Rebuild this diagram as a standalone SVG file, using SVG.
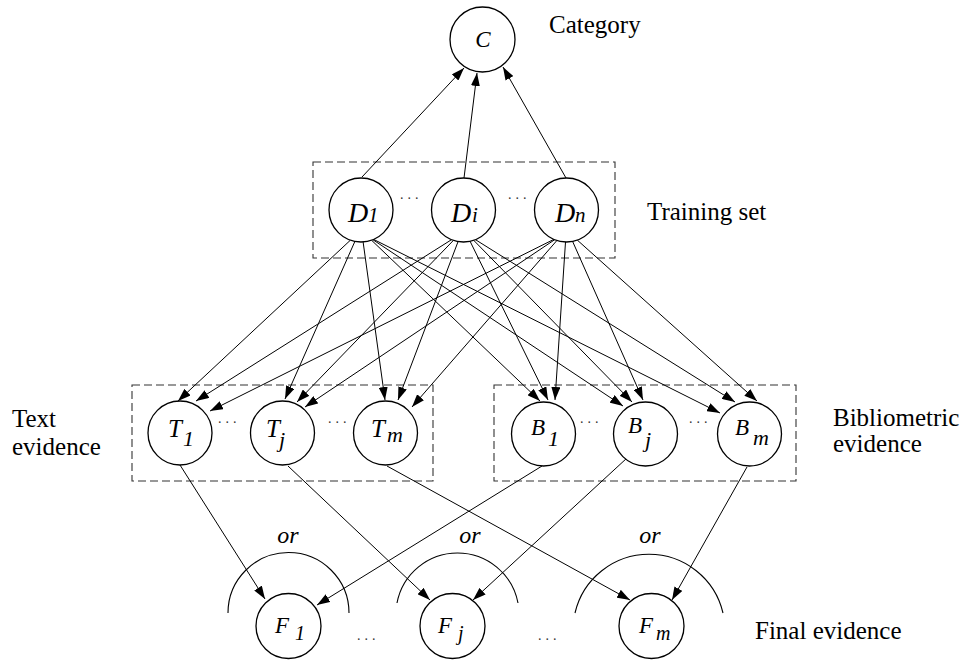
<svg xmlns="http://www.w3.org/2000/svg" width="964" height="660" viewBox="0 0 964 660">
<style>
.node{fill:#fff;stroke:#000;stroke-width:1.3}
.box{fill:none;stroke:#333;stroke-width:1.1;stroke-dasharray:8,4}
.edge{fill:none;stroke:#000;stroke-width:1;marker-end:url(#arr)}
.arc{fill:none;stroke:#000;stroke-width:1.1}
.lbl{font-style:italic;fill:#000}
.txt{font-size:25px;fill:#000}
.dots{font-size:14px;letter-spacing:4px;fill:#333}
</style>
<defs>
<marker id="arr" markerUnits="userSpaceOnUse" markerWidth="13" markerHeight="9" viewBox="0 0 13 9" refX="13" refY="4.5" orient="auto">
<path d="M0,0 L13,4.5 L0,9 z" fill="#000"/>
</marker>
</defs>
<rect fill="#fff" x="0" y="0" width="964" height="660"/>

<g id="boxes">
<rect class="box" x="313" y="162" width="302" height="96"/>
<rect class="box" x="132" y="385" width="301" height="96"/>
<rect class="box" x="494" y="385" width="302" height="96"/>
</g>

<g id="connectors">
<line class="edge" x1="362" y1="177" x2="464" y2="68"/>
<line class="edge" x1="464" y1="178" x2="477" y2="73"/>
<line class="edge" x1="566" y1="178" x2="503" y2="67"/>

<line class="edge" x1="350.4" y1="240.2" x2="178" y2="401"/>
<line class="edge" x1="354.9" y1="241.4" x2="285" y2="399"/>
<line class="edge" x1="363.1" y1="241.9" x2="385" y2="400"/>
<line class="edge" x1="371.5" y1="240.2" x2="540" y2="401"/>
<line class="edge" x1="372.9" y1="239.7" x2="623" y2="406"/>
<line class="edge" x1="373.6" y1="239.4" x2="720" y2="413"/>

<line class="edge" x1="451.5" y1="239.7" x2="196" y2="401"/>
<line class="edge" x1="453.4" y1="240.4" x2="297" y2="402"/>
<line class="edge" x1="458.1" y1="241.5" x2="398" y2="400"/>
<line class="edge" x1="470.1" y1="241.3" x2="548" y2="400"/>
<line class="edge" x1="473.7" y1="240.3" x2="632" y2="402"/>
<line class="edge" x1="475.5" y1="239.7" x2="735" y2="402"/>

<line class="edge" x1="553.8" y1="239.4" x2="210" y2="411"/>
<line class="edge" x1="554.7" y1="239.7" x2="305" y2="407"/>
<line class="edge" x1="556.9" y1="240.5" x2="412" y2="407"/>
<line class="edge" x1="565.5" y1="242" x2="555" y2="400"/>
<line class="edge" x1="572.6" y1="241.4" x2="643" y2="400"/>
<line class="edge" x1="577.3" y1="240.1" x2="757" y2="401"/>

<line class="edge" x1="180" y1="465" x2="265" y2="599"/>
<line class="edge" x1="542" y1="466" x2="317" y2="605"/>
<line class="edge" x1="288" y1="466" x2="430" y2="600"/>
<line class="edge" x1="627" y1="458" x2="473" y2="600"/>
<line class="edge" x1="387" y1="466" x2="630" y2="600"/>
<line class="edge" x1="747" y1="467" x2="672" y2="600"/>
</g>

<g id="or-arcs" font-family="'Liberation Serif', 'Times New Roman', Times, 'DejaVu Serif', 'Noto Serif', serif">
<path class="arc" d="M228,613 A60.5,60.5 0 0 1 349,613"/>
<path class="arc" d="M397,603 A61.6,61.6 0 0 1 518,603"/>
<path class="arc" d="M575,613 A76,76 0 0 1 723,613"/>
<text class="lbl" x="288" y="543" font-size="24" text-anchor="middle">or</text>
<text class="lbl" x="470" y="543" font-size="24" text-anchor="middle">or</text>
<text class="lbl" x="650" y="543" font-size="24" text-anchor="middle">or</text>
</g>

<g id="nodes" font-family="'Liberation Serif', 'Times New Roman', Times, 'DejaVu Serif', 'Noto Serif', serif">
<g id="node-C">
<circle class="node" cx="482.5" cy="39.5" r="32.5"/>
<text class="lbl" x="483" y="47" font-size="23" text-anchor="middle">C</text>
</g>

<g id="node-D1">
<circle class="node" cx="361" cy="210" r="32"/>
<text class="lbl"><tspan x="348" y="222" font-size="28">D</tspan><tspan x="368" y="222" font-size="21">1</tspan></text>
</g>
<g id="node-Di">
<circle class="node" cx="463.5" cy="210" r="32"/>
<text class="lbl"><tspan x="451" y="222" font-size="28">D</tspan><tspan x="472" y="222" font-size="21">i</tspan></text>
</g>
<g id="node-Dn">
<circle class="node" cx="566.5" cy="210" r="32"/>
<text class="lbl"><tspan x="555" y="222" font-size="28">D</tspan><tspan x="575" y="222" font-size="21">n</tspan></text>
</g>

<g id="node-T1">
<circle class="node" cx="180" cy="433" r="32"/>
<text class="lbl"><tspan x="168" y="437" font-size="25">T</tspan><tspan x="183" y="446" font-size="22">1</tspan></text>
</g>
<g id="node-Tj">
<circle class="node" cx="282.5" cy="433" r="32"/>
<text class="lbl"><tspan x="266" y="437" font-size="25">T</tspan><tspan x="279" y="447" font-size="22">j</tspan></text>
</g>
<g id="node-Tm">
<circle class="node" cx="385.5" cy="433" r="32"/>
<text class="lbl"><tspan x="371" y="437" font-size="25">T</tspan><tspan x="387" y="442" font-size="22">m</tspan></text>
</g>

<g id="node-B1">
<circle class="node" cx="543.5" cy="434" r="32"/>
<text class="lbl"><tspan x="531" y="435" font-size="23">B</tspan><tspan x="548" y="446" font-size="22">1</tspan></text>
</g>
<g id="node-Bj">
<circle class="node" cx="645.5" cy="434" r="32"/>
<text class="lbl"><tspan x="628" y="433" font-size="23">B</tspan><tspan x="645" y="447" font-size="22">j</tspan></text>
</g>
<g id="node-Bm">
<circle class="node" cx="749.5" cy="434" r="32"/>
<text class="lbl"><tspan x="735" y="435" font-size="23">B</tspan><tspan x="753" y="445" font-size="22">m</tspan></text>
</g>

<g id="node-F1">
<circle class="node" cx="288.5" cy="626" r="32.5"/>
<text class="lbl"><tspan x="275" y="633" font-size="23">F</tspan><tspan x="295" y="640" font-size="20">1</tspan></text>
</g>
<g id="node-Fj">
<circle class="node" cx="452.5" cy="626" r="32.5"/>
<text class="lbl"><tspan x="438" y="633" font-size="23">F</tspan><tspan x="458" y="640" font-size="20">j</tspan></text>
</g>
<g id="node-Fm">
<circle class="node" cx="651.5" cy="626" r="32.5"/>
<text class="lbl"><tspan x="639" y="633" font-size="23">F</tspan><tspan x="656" y="640" font-size="20">m</tspan></text>
</g>
</g>

<g id="dots" font-family="'Liberation Serif', 'Times New Roman', Times, 'DejaVu Serif', 'Noto Serif', serif">
<text class="dots" x="400" y="199">...</text>
<text class="dots" x="508" y="199">...</text>
<text class="dots" x="218" y="423">...</text>
<text class="dots" x="328" y="423">...</text>
<text class="dots" x="580" y="423">...</text>
<text class="dots" x="689" y="423">...</text>
<text class="dots" x="357" y="640">...</text>
<text class="dots" x="538" y="640">...</text>
</g>

<g id="labels" font-family="'Liberation Serif', 'Times New Roman', Times, 'DejaVu Serif', 'Noto Serif', serif">
<text class="txt" x="549" y="33">Category</text>
<text class="txt" x="647" y="220">Training set</text>
<text class="txt" x="12" y="427">Text</text>
<text class="txt" x="12" y="455">evidence</text>
<text class="txt" x="833" y="426">Bibliometric</text>
<text class="txt" x="833" y="452">evidence</text>
<text class="txt" x="755" y="639">Final evidence</text>
</g>
</svg>
